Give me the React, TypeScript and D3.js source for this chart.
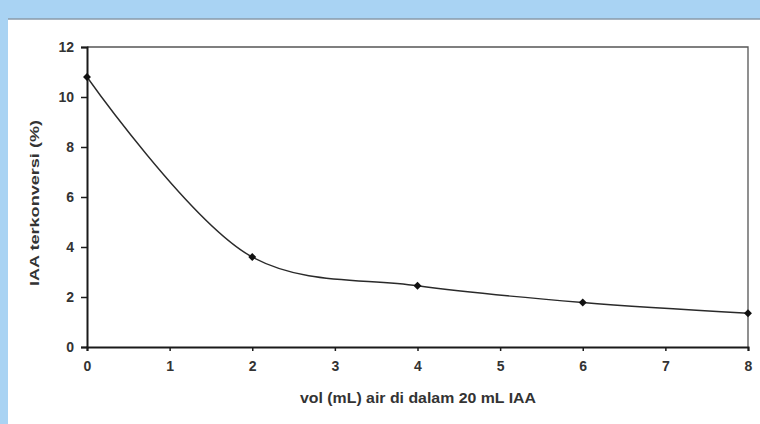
import React, { useEffect, useRef } from 'react';
import * as d3 from 'd3';

const volAir = [0, 2, 4, 6, 8];
const iaaConv = [10.8, 3.6, 2.45, 1.78, 1.35];
const xTicks = [0, 1, 2, 3, 4, 5, 6, 7, 8];
const yTicks = [0, 2, 4, 6, 8, 10, 12];
const xTitle = 'vol (mL) air di dalam 20 mL IAA';
const yTitle = 'IAA terkonversi (%)';

const W = 760;
const H = 424;

const App = () => {
  const svgRef = useRef<SVGSVGElement>(null);

  useEffect(() => {
    const svg = d3.select(svgRef.current);
    svg.selectAll('*').remove();

    // page background: blue strip + white panel
    svg.append('rect').attr('width', W).attr('height', H).attr('fill', '#a9d3f3');
    svg.append('rect').attr('x', 8).attr('y', 19).attr('width', W - 8).attr('height', H - 19).attr('fill', '#ffffff');
    svg.append('line').attr('x1', 8).attr('x2', W).attr('y1', 19).attr('y2', 19)
      .attr('stroke', '#8a9aa8').attr('stroke-width', 1.5);

    const x = d3.scaleLinear().domain([0, 8]).range([87, 748]);
    const y = d3.scaleLinear().domain([0, 12]).range([347, 47]);

    const font = 'Liberation Sans, Arial, sans-serif';

    // frame top / right
    svg.append('path')
      .attr('d', `M${x(0)},${y(12)}H${x(8)}V${y(0)}`)
      .attr('fill', 'none').attr('stroke', '#555').attr('stroke-width', 1.3);

    const yAxis = svg.append('g')
      .attr('transform', `translate(${x(0)},0)`)
      .call(d3.axisLeft(y).tickValues(yTicks).tickSize(6).tickPadding(7).tickFormat(d3.format('d')));
    const xAxis = svg.append('g')
      .attr('transform', `translate(0,${y(0)})`)
      .call(d3.axisBottom(x).tickValues(xTicks).tickSize(4).tickPadding(10).tickFormat(d3.format('d')));

    [yAxis, xAxis].forEach((g) => {
      g.select('.domain').attr('stroke', '#1a1a1a').attr('stroke-width', 2);
      g.selectAll('.tick line').attr('stroke', '#1a1a1a').attr('stroke-width', 1.5);
      g.selectAll('.tick text')
        .attr('fill', '#333').style('font-family', font).style('font-size', '14px').style('font-weight', 'bold');
    });

    const pts = volAir.map((v, i) => [x(v), y(iaaConv[i])] as [number, number]);
    const line = d3.line().curve(d3.curveCatmullRom.alpha(0.5));
    svg.append('path').attr('d', line(pts))
      .attr('fill', 'none').attr('stroke', '#2a2a2a').attr('stroke-width', 1.4);

    svg.selectAll('.pt').data(pts).join('path').attr('class', 'pt')
      .attr('transform', (d) => `translate(${d[0]},${d[1]})`)
      .attr('d', d3.symbol(d3.symbolDiamond2, 40)())
      .attr('fill', '#111');

    svg.append('text').attr('x', 418).attr('y', 403).attr('text-anchor', 'middle')
      .attr('fill', '#333').style('font-family', font).style('font-size', '14px').style('font-weight', 'bold')
      .attr('textLength', 236).attr('lengthAdjust', 'spacingAndGlyphs')
      .text(xTitle);

    svg.append('text')
      .attr('transform', `translate(39,203) rotate(-90)`)
      .attr('text-anchor', 'middle')
      .attr('fill', '#333').style('font-family', font).style('font-size', '13px').style('font-weight', 'bold')
      .attr('textLength', 166).attr('lengthAdjust', 'spacingAndGlyphs')
      .text(yTitle);
  }, []);

  return (
    <div>
      <svg ref={svgRef} width={W} height={H} style={{ position: 'absolute', left: 0, top: 0 }} />
    </div>
  );
};

export default App;
